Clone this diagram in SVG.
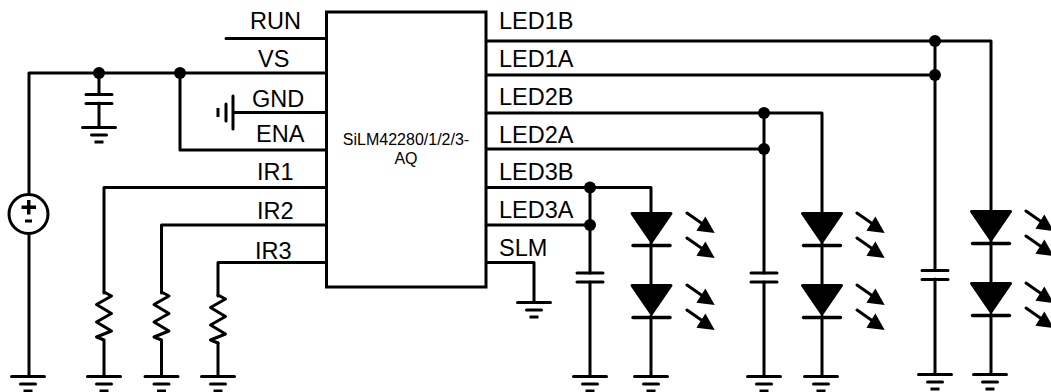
<svg xmlns="http://www.w3.org/2000/svg" width="1051" height="392" viewBox="0 0 1051 392">
<style>
.w{fill:none;stroke:#000;stroke-width:3;stroke-linecap:round;stroke-linejoin:round}
.t{font-family:"Liberation Sans",Arial,sans-serif;font-size:23.500px;fill:#000}
.s{font-family:"Liberation Sans",Arial,sans-serif;font-size:16px;fill:#000;text-anchor:middle}
.d{fill:#000}
</style>
<defs>
<g id="gnd"><path class="w" d="M-16.500 0H16.500M-7.500 7.500H7.500"/><path d="M-4.500 13H4.500V16H-4.500Z" class="d"/></g>
<g id="cap"><path class="w" d="M-13 0H13M-13 9H13"/></g>
<g id="res"><path class="w" d="M0 0L7.500 4L-7.500 12.500L7.500 21.500L-7.500 30L7.500 39L-7.500 45L0 48"/></g>
<g id="arrow"><path class="w" d="M0 0L20 14"/><path class="d" d="M27.700 20L18.400 3.400L9.400 17.700Z"/></g>
<g id="led"><path class="d" stroke="#000" stroke-width="3" stroke-linejoin="round" d="M-19.500 1.500H19.500L0 30Z"/><path class="w" d="M-18.500 33.500H18.500" style="stroke-width:3.400"/></g>
</defs>
<g id="connectors">
<path class="w" d="M226 38.500H326M29 73H326M29 73V194M29 234V376M99 73V94M99 103V127M180 73V150H326M234 112.500H326"/>
<path class="w" d="M326 187.500H104V293M104 341V376M326 225H161.500V293M161.500 341V376M326 262.500H218V296M218 343V376"/>
<path class="w" d="M486 41H991V210M486 75H935M935 41V270M935 279V374M991 241V284M991 314V374"/>
<path class="w" d="M486 113H822V212M486 149H764M764 113V273M764 282V376M822 243V286M822 316V376"/>
<path class="w" d="M486 187.500H651V212M486 225H590M590 187.500V273M590 282V376M651 243V286M651 316V376"/>
<path class="w" d="M486 262.500H534V302"/>
<circle class="d" cx="99" cy="73" r="6"/><circle class="d" cx="180" cy="73" r="6"/>
<circle class="d" cx="935" cy="41" r="6"/><circle class="d" cx="935" cy="75" r="6"/>
<circle class="d" cx="764" cy="113" r="6"/><circle class="d" cx="764" cy="149" r="6"/>
<circle class="d" cx="590" cy="187.500" r="6"/><circle class="d" cx="590" cy="225" r="6"/>
</g>
<g id="ic">
<rect x="326.500" y="12" width="159.500" height="275" fill="#fff" stroke="#000" stroke-width="3"/>
<text class="s" x="406" y="145">SiLM42280/1/2/3-</text>
<text class="s" x="406" y="164">AQ</text>
<text class="t" x="250" y="28.500">RUN</text>
<text class="t" x="258" y="66.500">VS</text>
<text class="t" x="252" y="106.500">GND</text>
<text class="t" x="256" y="142">ENA</text>
<text class="t" x="257" y="180">IR1</text>
<text class="t" x="257" y="219">IR2</text>
<text class="t" x="255" y="259">IR3</text>
<text class="t" x="499" y="28.500">LED1B</text>
<text class="t" x="499" y="66.500">LED1A</text>
<text class="t" x="499" y="104.500">LED2B</text>
<text class="t" x="499" y="143">LED2A</text>
<text class="t" x="499" y="180">LED3B</text>
<text class="t" x="499" y="218">LED3A</text>
<text class="t" x="499" y="256">SLM</text>
</g>
<g id="source">
<circle cx="28.500" cy="214" r="19.500" fill="#fff" stroke="#000" stroke-width="3"/>
<path class="d" d="M27 200H30.500V205.500H36V209H30.500V214.500H27V209H21.500V205.500H27ZM25 219.500H32V222.500H25Z"/>
<use href="#gnd" x="28" y="376.500"/>
</g>
<g id="cap-vs"><use href="#cap" x="99" y="94.500"/><use href="#gnd" x="99" y="127.500"/></g>
<g id="gnd-ic"><path class="w" d="M233 96V129M226 104V121"/><path class="d" d="M216.500 108H219.500V117H216.500Z"/></g>
<g id="r1"><use href="#res" x="104" y="292"/><use href="#gnd" x="104" y="376.500"/></g>
<g id="r2"><use href="#res" x="161.500" y="292"/><use href="#gnd" x="161.500" y="376.500"/></g>
<g id="r3"><use href="#res" x="218" y="295"/><use href="#gnd" x="218" y="376.500"/></g>
<g id="gnd-slm"><use href="#gnd" x="534" y="302.500"/></g>
<g id="ch3">
<use href="#cap" x="590" y="273"/><use href="#gnd" x="590" y="376.500"/>
<use href="#led" x="651.500" y="212"/><use href="#led" x="651.500" y="284"/><use href="#gnd" x="651" y="376.500"/>
<use href="#arrow" x="687" y="213"/><use href="#arrow" x="687" y="238"/><use href="#arrow" x="687" y="285"/><use href="#arrow" x="687" y="310"/>
</g>
<g id="ch2">
<use href="#cap" x="764" y="273"/><use href="#gnd" x="764" y="376.500"/>
<use href="#led" x="822" y="212"/><use href="#led" x="822" y="284"/><use href="#gnd" x="821" y="376.500"/>
<use href="#arrow" x="857" y="213"/><use href="#arrow" x="857" y="238"/><use href="#arrow" x="857" y="285"/><use href="#arrow" x="857" y="310"/>
</g>
<g id="ch1">
<use href="#cap" x="935" y="270.500"/><use href="#gnd" x="935" y="374.500"/>
<use href="#led" x="991" y="210"/><use href="#led" x="991" y="282"/><use href="#gnd" x="990" y="374.500"/>
<use href="#arrow" x="1026" y="211"/><use href="#arrow" x="1026" y="236"/><use href="#arrow" x="1026" y="283"/><use href="#arrow" x="1026" y="308"/>
</g>
</svg>
